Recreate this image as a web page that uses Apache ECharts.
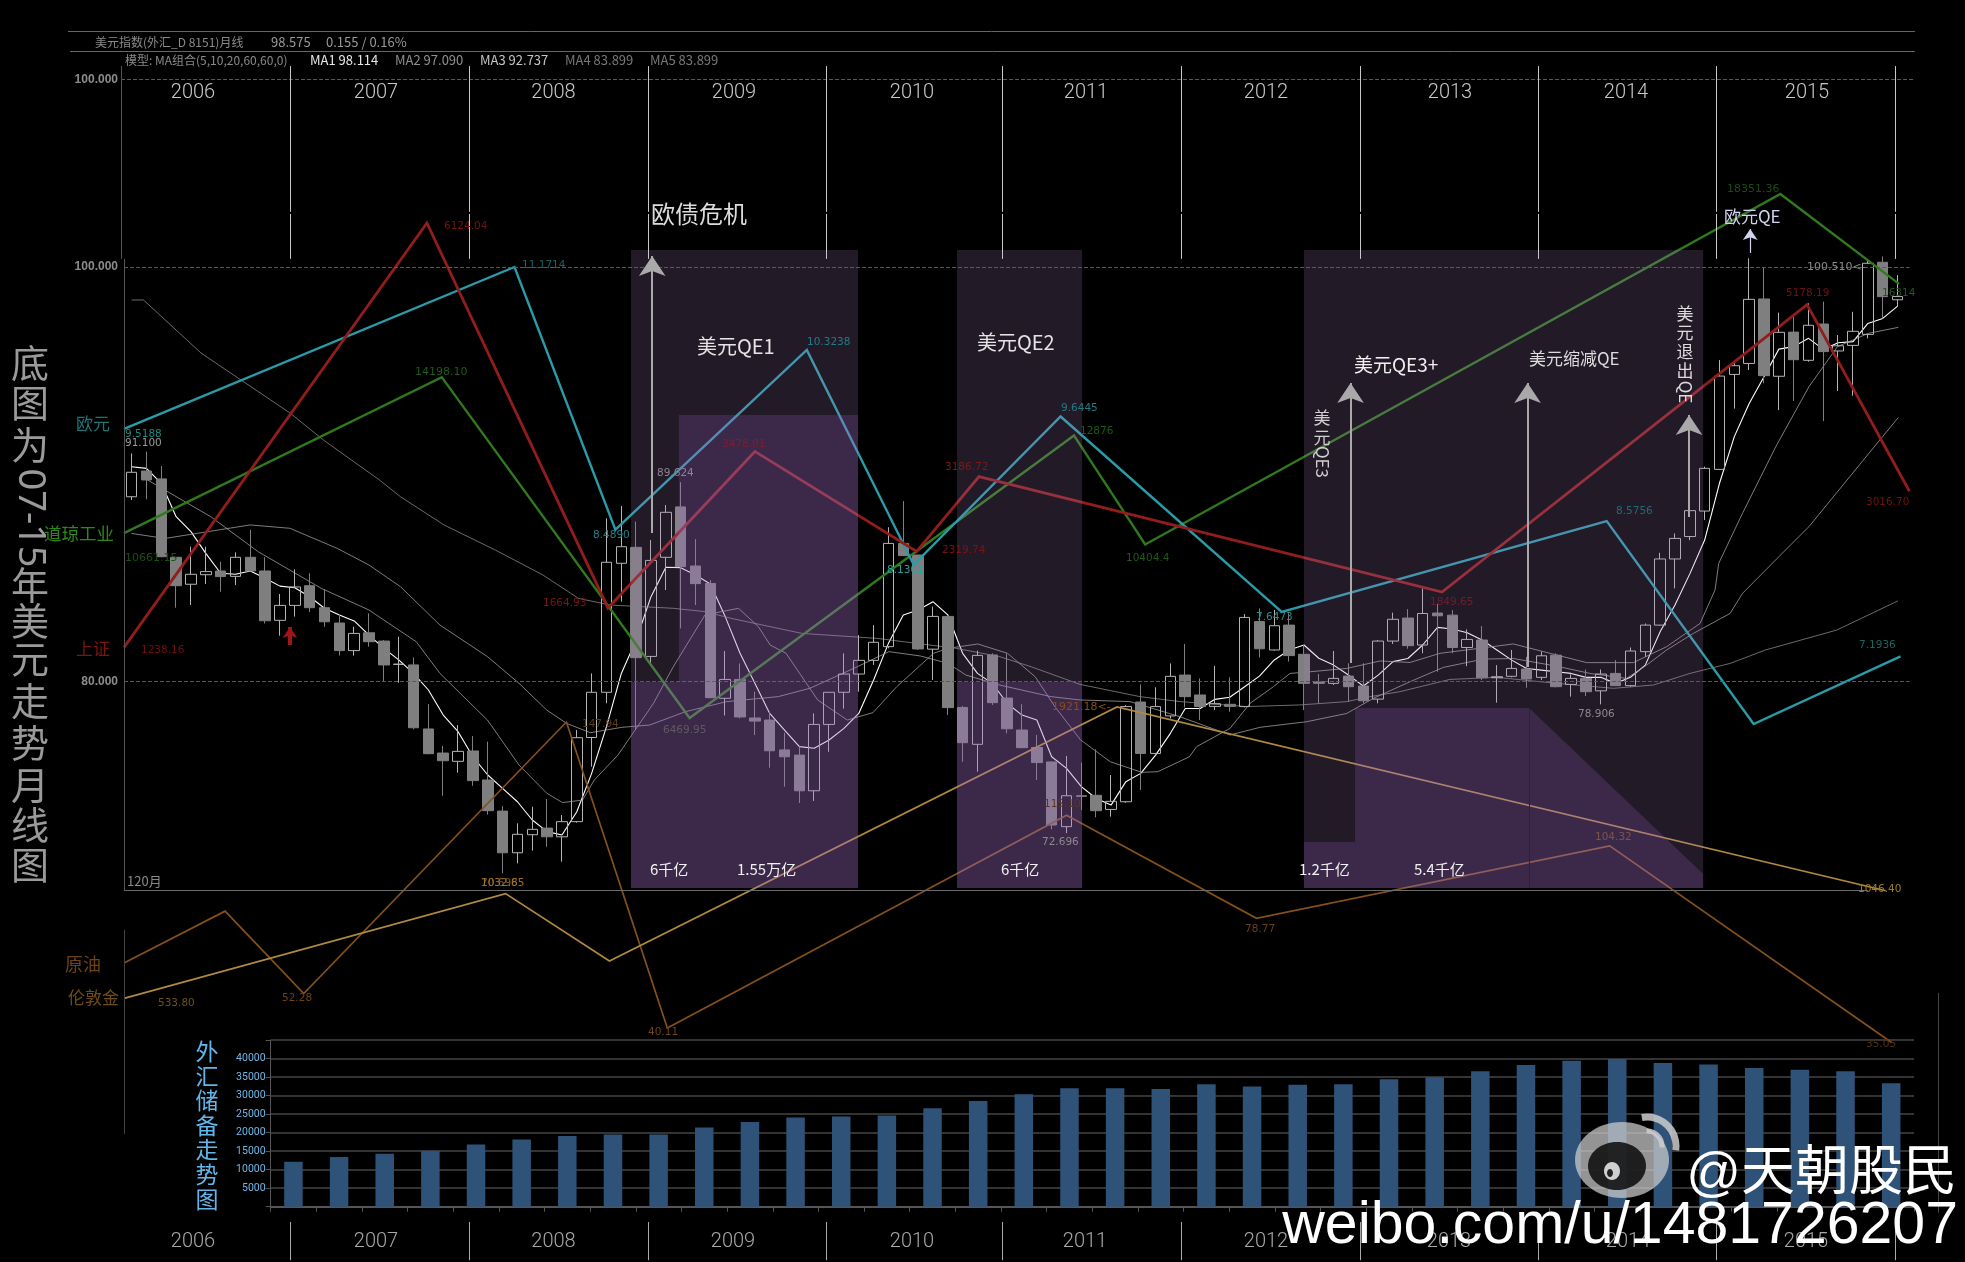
<!DOCTYPE html>
<html><head><meta charset="utf-8">
<style>html,body{margin:0;padding:0;background:#000}#c{width:1965px;height:1262px}</style>
<script src="https://cdn.jsdelivr.net/npm/echarts@6/dist/echarts.min.js"></script>
</head><body><div id="c"></div>
<script>
// ---------- monthly USD index candles: [open, close, low, high] ----------
const candles = [
[88.92,90.10,88.76,91.01],[90.16,89.73,88.80,91.10],[89.78,86.03,86.00,90.40],[86.00,84.63,83.57,86.00],
[84.70,85.18,83.70,86.51],[85.16,85.31,84.71,86.51],[85.34,85.07,84.34,85.79],[85.08,86.00,84.66,86.24],
[86.00,85.34,85.31,87.32],[85.34,82.94,82.81,86.00],[82.96,83.68,82.22,84.23],[83.68,84.57,83.14,85.42],
[84.63,83.57,83.36,85.23],[83.57,82.89,82.65,84.47],[82.83,81.50,81.26,83.22],[81.50,82.33,81.26,82.65],
[82.36,81.93,81.69,83.30],[81.96,80.81,80.02,82.01],[80.83,80.85,79.95,82.17],[80.81,77.78,77.70,81.17],
[77.72,76.53,76.50,78.92],[76.56,76.19,74.50,76.90],[76.16,76.64,75.61,77.91],[76.66,75.23,74.98,77.38],
[75.26,73.78,73.59,77.11],[73.76,71.75,70.76,74.00],[71.75,72.64,71.24,73.17],[72.62,72.88,71.85,73.97],
[72.94,72.52,72.04,74.34],[72.52,73.25,71.32,73.57],[73.25,77.30,73.20,77.67],[77.31,79.49,75.90,80.40],
[79.49,85.76,78.96,87.88],[85.71,86.51,83.86,88.47],[86.48,81.16,77.67,87.72],[81.22,85.85,80.88,86.83],
[86.00,88.17,84.42,88.52],[88.43,85.55,82.57,89.624],[85.58,84.73,83.70,86.88],[84.74,79.23,79.20,84.90],
[79.20,80.11,78.37,81.48],[80.11,78.30,78.23,80.88],[78.25,78.10,77.43,79.52],[78.15,76.67,75.85,78.55],
[76.71,76.38,74.94,77.54],[76.46,74.74,74.15,76.87],[74.74,77.94,74.25,78.47],[77.94,79.49,76.62,79.49],
[79.49,80.37,78.70,81.37],[80.37,81.03,79.52,82.25],[81.03,81.90,80.81,82.73],[81.69,86.67,81.61,87.45],
[86.67,86.08,86.06,88.71],[86.11,81.58,81.53,86.11],[81.57,83.15,80.08,83.62],[83.15,78.75,78.39,83.18],
[78.76,77.06,76.14,78.83],[76.98,81.27,75.66,81.50],[81.29,78.99,78.88,81.37],[79.21,77.73,77.51,81.37],
[77.67,76.82,76.79,78.92],[76.83,76.10,75.26,77.43],[76.13,73.09,72.88,76.14],[73.01,74.50,72.696,76.42],
[74.50,74.47,73.81,76.10],[74.52,73.78,73.46,76.74],[73.84,74.23,73.49,75.50],[74.21,78.80,74.16,78.87],
[79.02,76.54,74.78,79.87],[76.54,78.80,76.50,79.73],[78.35,80.26,78.23,80.88],[80.32,79.28,78.76,81.82],
[79.36,78.80,78.15,80.16],[78.81,78.94,78.63,80.76],[78.91,78.81,78.55,80.21],[78.80,83.10,78.76,83.26],
[82.90,81.59,81.17,83.54],[81.53,82.70,81.50,83.46],[82.73,81.26,80.97,83.30],[81.32,79.92,78.63,81.77],
[80.00,79.92,78.96,80.37],[79.92,80.16,79.84,81.48],[80.27,79.76,79.04,80.89],[79.79,79.08,78.96,80.89],
[79.16,81.96,78.96,82.01],[81.96,83.01,81.82,83.33],[83.07,81.74,81.59,83.50],[81.77,83.29,81.37,84.50],
[83.31,83.18,80.48,83.75],[83.21,81.65,81.37,83.45],[81.65,82.04,80.75,82.52],[82.01,80.19,80.08,82.68],
[80.19,80.24,78.99,80.80],[80.26,80.64,80.21,81.53],[80.61,80.13,79.71,81.20],[80.21,81.25,80.08,81.45],
[81.28,79.76,79.73,81.37],[79.87,80.16,79.28,80.35],[80.16,79.52,79.31,80.59],[79.56,80.37,78.906,80.59],
[80.40,79.81,79.79,81.04],[79.81,81.48,79.76,81.65],[81.45,82.73,81.20,82.81],[82.73,85.92,82.70,86.22],
[85.92,86.91,84.50,87.15],[87.00,88.25,86.83,88.36],[88.23,90.29,87.80,90.37],[90.24,94.74,90.21,95.51],
[94.82,95.24,93.17,95.40],[95.35,98.44,95.03,100.42],[98.46,94.76,94.39,99.98],[94.73,96.85,93.10,97.80],
[96.86,95.53,93.54,97.69],[95.50,97.19,95.43,98.25],[97.25,95.92,92.57,98.33],[95.95,96.20,94.02,96.72],
[96.22,96.90,93.79,97.84],[96.75,100.18,96.56,100.30],[100.23,98.57,97.52,100.51],[98.42,98.575,98.09,99.61]
];
// ---------- moving averages ----------
const ma1 = [90.37,90.29,89.57,87.96,87.24,86.19,85.23,85.18,85.34,84.99,84.61,84.53,84.10,83.54,83.22,82.93,82.25,81.61,81.05,80.40,
79.60,78.39,77.59,76.38,75.50,74.86,74.21,73.33,72.77,72.61,73.73,75.58,77.83,80.40,82.01,84.10,85.52,85.50,85.15,84.71,
83.14,81.37,79.92,78.47,77.67,76.87,76.79,77.19,77.75,78.47,80.08,81.85,83.22,83.46,83.86,83.22,81.37,80.40,79.92,78.96,
78.39,78.15,76.38,75.82,74.94,74.37,74.05,75.18,75.58,76.46,77.51,78.71,78.71,79.15,79.25,79.76,80.27,81.05,81.53,81.77,
81.13,80.80,80.32,79.79,80.32,80.97,81.12,81.77,82.62,82.54,82.36,82.01,81.53,81.04,80.64,80.56,80.48,80.40,80.21,80.21,
79.92,80.21,80.80,82.41,83.70,85.20,86.83,89.57,91.82,93.42,94.71,96.04,96.16,96.56,96.03,96.35,96.40,97.28,97.52,98.114];
const ma2 = [[1.07,89.73],[5.33,87.96],[8.53,86.27],[12.79,84.50],[15.99,83.46],[19.18,81.93],[20.78,80.40],[23.98,78.15],[26.11,75.98],[27.98,74.62],[29.04,74.17],[30.38,74.29],[31.18,75.26],[32.77,76.46],[35.17,78.96],[36.50,80.72],[38.64,83.22],[40.90,83.54],[42.24,82.65],[43.03,81.77],[44.10,81.37],[46.23,79.12],[48.23,78.15],[49.96,78.51],[51.56,79.76],[54.04,81.37],[55.03,81.61],[57.02,81.82],[59.02,81.37],[60.89,80.24],[62.22,78.79],[63.95,77.19],[65.95,76.14],[68.08,75.63],[69.15,75.66],[71.28,76.38],[71.77,76.87],[74.02,77.75],[75.37,78.96],[76.94,79.76],[78.06,80.40],[79.41,80.48],[81.88,80.64],[84.13,81.00],[86.15,80.93],[88.17,81.37],[93.11,81.82],[98.05,80.92],[101.19,80.92],[103.44,81.69],[105.69,82.81],[106.70,84.42],[106.95,85.71],[108.55,88.12],[110.79,91.33],[113.03,94.23],[114.95,96.16],[117.03,96.80],[119.05,97.09]];
const ma3 = [[0,87.15],[2.26,86.91],[7.99,87.56],[10.66,87.40],[13.86,86.43],[15.99,85.63],[18.12,84.58],[20.78,82.73],[23.98,81.21],[26.11,79.92],[27.98,78.63],[29.31,77.99],[30.91,77.54],[33.04,77.80],[34.91,77.91],[37.30,78.55],[40.10,79.04],[43.57,79.28],[45.70,79.68],[48.90,80.72],[51.03,81.45],[53.16,81.24],[55.03,80.88],[56.22,80.32],[58.49,79.84],[61.95,79.28],[63.91,79.12],[67.28,79.04],[70.65,78.31],[74.02,77.43],[76.04,77.80],[79.18,78.07],[81.88,78.47],[83.68,79.20],[86.15,80.00],[88.39,80.69],[91.09,81.09],[93.11,81.12],[96.03,80.75],[98.27,80.40],[100.74,80.16],[102.09,80.80],[103.44,81.53],[105.24,82.33],[107.71,83.29],[108.55,84.26],[111.10,86.10],[113.03,87.48],[117.99,91.82],[119.05,92.737]];
const ma4 = [[0,98.41],[0.8,98.41],[4.68,95.85],[10.67,92.96],[12.92,91.66],[16.7,89.73],[18.12,88.92],[21.05,87.56],[24.51,86.35],[27.71,85.15],[30.11,84.02],[32.24,83.70],[36.50,83.54],[38.64,83.38],[40.37,83.06],[45.17,82.33],[50.23,82.09],[55.56,81.61],[58.49,81.21],[60.62,80.72],[63.91,79.87],[67.95,79.28],[70.65,79.04],[75.14,78.80],[78.73,78.88],[81.88,79.04],[83.45,79.28],[85.47,79.52],[88.84,80.11],[91.98,80.21],[96.03,79.92],[99.85,79.68],[102.54,79.84],[105.01,80.40],[107.71,80.88],[110.1,81.53],[114.9,82.49],[119.03,83.899]];
// ---------- overlaid markets: month position + value ----------
const sseMonths  = [-0.51,19.9,32.1,42.0,52.9,57.1,88.3,112.9,119.8];
const sseValues  = [1208.16,6124.04,1664.93,3478.01,2319.74,3186.72,1849.65,5178.19,3016.70];
const eurMonths  = [-0.51,25.8,32.6,45.5,52.7,62.6,77.5,99.4,109.3,119.2];
const eurValues  = [9.5188,11.1714,8.4890,10.3238,8.1301,9.6445,7.6473,8.5756,6.5034,7.1936];
const dowMonths  = [-0.51,20.9,37.6,63.5,68.3,111.1,119.1];
const dowValues  = [10661.15,14198.10,6469.95,12876,10404.4,18351.36,16314];
const oilMonths  = [-0.51,6.3,11.6,29.3,36.1,63.0,75.8,99.6,118.6];
const oilValues  = [63.0,81.3,52.28,147.94,40.11,115.10,78.77,104.32,35.05];
const goldMonths = [-0.51,25.2,32.2,66.4,118.2];
const goldValues = [533.80,1032.65,711.7,1921.18,1046.40];
// ---------- foreign-exchange reserves (quarterly bars) ----------
const reserveQuarters = Array.from({length:36},(_,i)=>'Q'+(i+1));
const reserveValues = [12150,13420,14330,15150,16780,18140,19140,19500,19500,21400,22860,24130,24400,24670,26580,28570,30380,32020,32020,31840,33100,32470,32930,33100,34470,35010,36640,38280,39450,39910,38820,38460,37460,37010,36640,33380];
// ---------- QE blocks: [month start, month end, level at start, level at end, floor] ----------
const qeSpans = [[33.65,48.95,100.82,100.82,70.05],[55.62,64.05,100.82,100.82,70.05],[79.0,105.9,100.82,100.82,70.05]];
const qeAmounts = [[33.65,36.88,79.99,79.99,70.05],[36.88,48.95,92.86,92.86,70.05],[55.62,64.05,79.99,79.99,70.05],[79.0,82.44,72.27,72.27,70.05],[82.44,94.17,78.73,78.73,70.05],[94.17,105.9,78.73,70.73,70.05]];
// ---------- year boundaries and labels ----------
const yearBoundaries = [10.67,22.73,34.8,46.8,58.7,70.7,82.78,94.78,106.78,118.83];
const yearLabels = ['2006','2007','2008','2009','2010','2011','2012','2013','2014','2015'];
const priceTicks = [80,100];
// arrows: [month, from price, to price]
const qeArrows = [[35.08,87.17,100.53],[82.14,80.90,94.41],[94.07,80.71,94.41],[104.95,87.94,92.86]];

const zip=(a,b)=>a.map((v,i)=>[v,b[i]]);
const seg=(x1,y1,x2,y2,style)=>[{coord:[x1,y1],lineStyle:style},{coord:[x2,y2]}];

// canvas-wide scales: month m sits at 131.6+14.84*m px, price p at 267+(100-p)*20.735 px
const xMin=-8.868, xMax=123.544, pMax=112.877, pMin=52.014;

function hiddenY(min,max){return {type:'value',gridIndex:0,min,max,show:false,splitLine:{show:false}};}

const guide={color:'#666',width:1,type:'solid'};
const dash={color:'#5a5a5a',width:1,type:'dashed'};
const sep={color:'#c8c8c8',width:1,type:'solid'};
const guideLines=[
 seg(-4.29,111.38,120.17,111.38,guide),
 seg(-4.15,110.42,120.17,110.42,guide),
 seg(-0.71,109.07,120.17,109.07,dash),
 seg(-0.51,100,119.8,100,dash),
 seg(-0.51,80,119.8,80,dash),
 seg(-0.51,69.95,117,69.95,{color:'#6a6a6a',width:1,type:'solid'}),
 seg(-0.71,109.69,-0.71,100.39,{color:'#555',width:1,type:'solid'}),
 seg(-0.51,100.39,-0.51,69.95,{color:'#555',width:1,type:'solid'}),
 seg(-0.51,68.03,-0.51,58.2,{color:'#444',width:1,type:'solid'}),
 seg(121.73,64.99,121.73,54.38,{color:'#444',width:1,type:'solid'}),
 seg(94.17,78.73,94.17,70.05,{color:'#170f1c',width:1,type:'solid'})
];
yearBoundaries.forEach(m=>{
 guideLines.push(seg(m,109.69,m,102.66,sep));
 guideLines.push(seg(m,102.56,m,100.39,sep));
 guideLines.push(seg(m,53.94,m,52.1,{color:'#aaa',width:1,type:'solid'}));
});

function blockRender(params,api){
 const xs=api.value(0),xe=api.value(1),t1=api.value(2),t2=api.value(3),f=api.value(4);
 return {type:'polygon',shape:{points:[api.coord([xs,t1]),api.coord([xe,t2]),api.coord([xe,f]),api.coord([xs,f])]},style:api.style()};
}
function markets(name,months,vals,yi,color,width,z){
 return {name,type:'line',xAxisIndex:0,yAxisIndex:yi,data:zip(months,vals),showSymbol:false,z,
  lineStyle:{color,width,join:'miter'},itemStyle:{color},silent:true,animation:false};
}
function maLine(data,color,width){
 return {type:'line',xAxisIndex:0,yAxisIndex:0,data,showSymbol:false,z:2,lineStyle:{color,width},silent:true};
}

// ---------- free text ----------
const g=[];
const CJK='"Noto Sans CJK SC"', SANS='"Liberation Sans","Noto Sans CJK SC"', SMALL='"DejaVu Sans"', YEAR='Roboto';
function t(text,x,y,fill,size,opt){opt=opt||{};
 g.push({type:'text',x,y,z:100,rotation:opt.rot||0,style:{text,fill,font:(opt.weight||'normal')+' '+size+'px '+(opt.family||CJK),
   textAlign:opt.align||'left',textVerticalAlign:'middle',lineHeight:opt.lh,stroke:opt.stroke,lineWidth:opt.sw||0}});}

// header
t('美元指数(外汇_D 8151)月线',95,42,'#8a8a8a',12);
t('98.575',271,42,'#999',13);
t('0.155 / 0.16%',326,42,'#999',13);
t('模型: MA组合(5,10,20,60,60,0)',125,60,'#8a8a8a',12);
t('MA1 98.114',310,60,'#e8e8e8',13);
t('MA2 97.090',395,60,'#8f8f8f',13);
t('MA3 92.737',480,60,'#c4c4c4',13);
t('MA4 83.899',565,60,'#777',13);
t('MA5 83.899',650,60,'#777',13);
t('100.000',118,80,'#8c8c8c',12,{family:SANS,weight:'bold',align:'right'});
// year labels
const topX=[193,376,553.5,734,912,1086,1266,1450,1626,1807], botX=[193,376,553.5,733,912,1085,1266,1449,1628,1806];
yearLabels.forEach((y,i)=>{
 t(y,topX[i],93,'#c8c8c8',20,{family:YEAR,weight:'300',align:'center'});
 t(y,botX[i],1242,'#a8a8a8',20,{family:YEAR,weight:'300',align:'center'});
});
// left vertical title
[['底',363],['图',403],['为',445],['年',585],['美',621],['元',659],['走',701],['势',743],['月',785],['线',825],['图',865]]
 .forEach(([c,y])=>t(c,30,y,'#9a9a9a',38,{align:'center'}));
t('07-15',30,518,'#9a9a9a',38,{align:'center',rot:-Math.PI/2,family:'"Noto Sans"'});
// market names
t('欧元',76,424,'#1c7676',17);
t('道琼工业',44,533,'#2c8a1a',17.5);
t('上证',76,649,'#7d1414',17);
t('原油',65,964,'#6e4315',18);
t('伦敦金',68,998,'#6e4d15',17);
t('120月',127,881,'#8a8a8a',13);
// value labels
const small=[
 ['9.5188',125,434,'#1d8a80'],['91.100',125,443,'#999'],['10661.15',125,558,'#1d4f14'],['1238.16',141,650,'#6d1010'],
 ['6124.04',444,226,'#701414'],['11.1714',522,265,'#1b6464'],['14198.10',415,372,'#1f5a18'],['8.4890',593,535,'#24808a'],
 ['1664.93',543,603,'#7a1616'],['89.624',657,473,'#8d8296'],['6469.95',663,730,'#5e5a60'],['147.94',582,724,'#5e3c14'],
 ['3478.01',722,444,'#7e1c30'],['2319.74',942,550,'#7a1414'],['3186.72',945,467,'#7e1818'],['8.1301',887,570,'#2aa0a0'],
 ['10404.4',1126,558,'#1f5a18'],['1921.18<-',1052,707,'#8a4b1e'],['115.10',1044,804,'#5a3820'],['72.696',1042,842,'#8a8a8a'],
 ['104.32',1595,837,'#7a5448'],['78.906',1578,714,'#8a8a8a'],['78.77',1245,929,'#6a4218'],['1046.40',1858,889,'#a07c20'],
 ['35.05',1866,1044,'#4e3210'],['7.6473',1256,617,'#2a8c90'],['1849.65',1430,602,'#6e1e2e'],['8.5756',1616,511,'#206a78'],
 ['5178.19',1786,293,'#6e1212'],['3016.70',1866,502,'#6e1212'],['7.1936',1859,645,'#1b6464'],['18351.36',1727,189,'#1c4a16'],
 ['100.510<-',1807,267,'#8a8a8a'],['16314',1882,293,'#1f5a18'],['10.3238',807,342,'#207a88'],['9.6445',1061,408,'#207a88'],
 ['12876',1080,431,'#1f5a18'],['533.80',158,1003,'#6e5218'],['52.28',282,998,'#6e4315'],['40.11',648,1032,'#6e4315'],
 ['70.698',481,883,'#7a5c30'],['1032.65',481,883,'#a07028']];
small.forEach(s=>t(s[0],s[1],s[2],s[3],s[0].length>7?11:10.5,{family:SMALL}));
// annotations
t('欧债危机',651,214,'#dcdcdc',24);
t('美元QE1',697,346,'#e4e4e4',20);
t('美元QE2',977,342,'#e4e4e4',20);
t('美元QE3+',1354,365,'#f0f0f0',19);
t('美元缩减QE',1529,359,'#dcdcdc',17);
t('欧元QE',1724,217,'#d4d4f2',17);
t('美\n元',1322,428,'#cfcfcf',17,{align:'center',lh:20});
t('QE3',1322,462,'#cfcfcf',17,{align:'center',rot:-Math.PI/2});
t('美\n元\n退\n出',1685,342,'#dcdcdc',17,{align:'center',lh:19});
t('QE',1685,392,'#dcdcdc',17,{align:'center',rot:-Math.PI/2});
t('6千亿',650,869,'#f0f0f0',15);
t('1.55万亿',737,869,'#f0f0f0',15);
t('6千亿',1001,869,'#f0f0f0',15);
t('1.2千亿',1299,869,'#f0f0f0',15);
t('5.4千亿',1414,869,'#f0f0f0',15);
// reserve panel title
t('外\n汇\n储\n备\n走\n势\n图',207,1125,'#62b6ea',23,{align:'center',lh:24.6});
// watermark
g.push({type:'ellipse',z:101,shape:{cx:1622,cy:1160,rx:47,ry:38},style:{fill:'rgba(205,205,205,0.72)'}});
g.push({type:'ellipse',z:102,shape:{cx:1617,cy:1166,rx:29,ry:24},style:{fill:'rgba(0,0,0,0.8)'}});
g.push({type:'ellipse',z:103,shape:{cx:1612,cy:1171,rx:8,ry:9},style:{fill:'#cfcfcf'}});
g.push({type:'ellipse',z:104,shape:{cx:1610,cy:1173,rx:3,ry:4},style:{fill:'#222'}});
g.push({type:'arc',z:101,shape:{cx:1647,cy:1146,r:29,startAngle:-1.75,endAngle:0.15},style:{stroke:'rgba(205,205,205,0.85)',lineWidth:7,fill:null}});
g.push({type:'arc',z:101,shape:{cx:1647,cy:1146,r:15,startAngle:-1.6,endAngle:0.1},style:{stroke:'rgba(205,205,205,0.85)',lineWidth:5,fill:null}});
t('@天朝股民',1957,1175,'#ffffff',54,{align:'right',family:SANS});
t('weibo.com/u/1481726207',1958,1227,'#ffffff',59,{align:'right',family:'"Liberation Sans"'});

const arrowStyle={color:'#a9a9a9',width:2,type:'solid'};
const arrowLines=qeArrows.map(a=>[{coord:[a[0],a[1]],lineStyle:arrowStyle},{coord:[a[0],a[2]]}]);

const option={
 backgroundColor:'#000',animation:false,
 grid:[{left:0,top:0,width:1965,height:1262,containLabel:false,show:false},
       {left:270.6,top:1040.2,width:1643.4,height:166.5,show:false}],
 xAxis:[{type:'value',gridIndex:0,min:xMin,max:xMax,show:false,splitLine:{show:false}},
        {type:'category',gridIndex:1,data:reserveQuarters,boundaryGap:true,
         axisLine:{lineStyle:{color:'#555',width:2}},axisTick:{show:true,lineStyle:{color:'#555'}},axisLabel:{show:false},splitLine:{show:false}}],
 yAxis:[{type:'value',gridIndex:0,min:pMin,max:pMax,offset:-121,position:'left',
         axisLine:{show:false},axisTick:{show:false},splitLine:{show:false},
         axisLabel:{show:true,customValues:priceTicks,formatter:v=>v.toFixed(3),color:'#8c8c8c',fontSize:12,fontWeight:'bold',fontFamily:'Liberation Sans',margin:3}},
        hiddenY(-5911,8707),   // 上证
        hiddenY(1.008,13.8987),// 欧元
        hiddenY(-5866,22750),  // 道琼
        hiddenY(-42.3,402.3),  // 原油
        hiddenY(-721.6,5287.8),// 伦敦金
        {type:'value',gridIndex:1,min:0,max:45000,interval:5000,position:'left',
         axisLine:{show:true,lineStyle:{color:'#555'}},axisTick:{show:true,lineStyle:{color:'#555'}},
         splitLine:{show:true,lineStyle:{color:'#333',width:2}},
         axisLabel:{color:'#6fb8e8',fontSize:10.5,fontFamily:'Roboto',margin:5,formatter:v=>(v===0||v===45000)?'':String(v)}}],
 series:[
  {type:'line',xAxisIndex:0,yAxisIndex:0,data:[],z:1,silent:true,
   markLine:{silent:true,symbol:'none',label:{show:false},animation:false,data:guideLines}},
  {name:'美元指数',type:'candlestick',xAxisIndex:0,yAxisIndex:0,barWidth:11,z:2,silent:true,
   encode:{x:0,y:[1,2,3,4]},
   data:candles.map((c,i)=>[i,c[0],c[1],c[2],c[3]]),
   itemStyle:{color:'rgba(0,0,0,0)',borderColor:'#b4b4b4',color0:'#7f7f7f',borderColor0:'#7f7f7f',borderWidth:1}},
  maLine(ma1.map((v,i)=>[i,v]),'#ffffff',1.1),
  maLine(ma2,'#9c9c9c',0.8),
  maLine(ma3,'#9c9c9c',0.8),
  maLine(ma4,'#858585',0.8),
  markets('道琼工业',dowMonths,dowValues,3,'#2f7a1c',2.4,3),
  markets('欧元',eurMonths,eurValues,2,'#2a9ba8',2.4,3),
  markets('上证',sseMonths,sseValues,1,'#931c1c',2.8,3),
  markets('原油',oilMonths,oilValues,4,'#85501c',1.7,3),
  markets('伦敦金',goldMonths,goldValues,5,'#b28a3e',1.7,3),
  {type:'custom',xAxisIndex:0,yAxisIndex:0,z:4,silent:true,renderItem:blockRender,
   encode:{x:[0,1],y:[2,3,4]},data:qeSpans,itemStyle:{color:'rgba(175,130,200,0.2)'}},
  {type:'custom',xAxisIndex:0,yAxisIndex:0,z:5,silent:true,renderItem:blockRender,
   encode:{x:[0,1],y:[2,3,4]},data:qeAmounts,itemStyle:{color:'rgba(160,105,205,0.2)'}},
  {type:'line',xAxisIndex:0,yAxisIndex:0,data:[],z:6,silent:true,
   markLine:{silent:true,symbol:['none','arrow'],symbolSize:20,label:{show:false},animation:false,data:arrowLines}},
  {type:'line',xAxisIndex:0,yAxisIndex:0,data:[],z:6,silent:true,
   markLine:{silent:true,symbol:['none','arrow'],symbolSize:11,label:{show:false},animation:false,data:[
     [{coord:[109.07,100.68],lineStyle:{color:'#d4d4f2',width:1.2,type:'solid'}},{coord:[109.07,101.83]}],
     [{coord:[10.67,81.77],lineStyle:{color:'#a01515',width:4,type:'solid'}},{coord:[10.67,82.64]}]]}},
  {name:'外汇储备',type:'bar',xAxisIndex:1,yAxisIndex:6,data:reserveValues,barWidth:18.5,z:2,silent:true,itemStyle:{color:'#2f5278'}}
 ],
 graphic:{elements:g}
};
const chart=echarts.init(document.getElementById('c'),null,{width:1965,height:1262,renderer:'canvas'});
chart.setOption(option);
</script></body></html>
